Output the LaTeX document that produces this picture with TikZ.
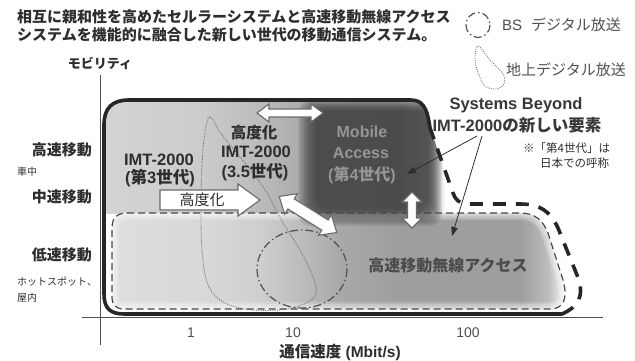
\documentclass[tikz,border=0pt]{standalone}
\usepackage{tikz}
\usepackage{fontspec}
\usetikzlibrary{arrows.meta}
\newfontfamily\jp{Noto Sans CJK JP}
\newfontfamily\lat{Liberation Sans}
\newcommand\fsz[1]{\fontsize{#1}{#1}\selectfont}
\newcommand\J[1]{{\jp #1}}
\definecolor{ink}{HTML}{2E2E2E}
\definecolor{inkg}{HTML}{505050}
\definecolor{darkblk}{HTML}{262626}
\definecolor{blockc}{HTML}{333333}
\definecolor{mobtxt}{HTML}{959595}
\definecolor{arrline}{HTML}{6A6A6A}
\pgfdeclarehorizontalshading{upshade}{100bp}{rgb(0bp)=(0.83,0.83,0.83); rgb(25bp)=(0.83,0.83,0.83); rgb(39bp)=(0.80,0.80,0.80); rgb(47bp)=(0.74,0.74,0.74); rgb(53bp)=(0.68,0.68,0.68); rgb(68bp)=(0.64,0.64,0.64); rgb(73bp)=(0.80,0.80,0.80); rgb(75bp)=(1,1,1); rgb(100bp)=(1,1,1)}
\pgfdeclarehorizontalshading{loshade}{100bp}{rgb(0bp)=(0.87,0.87,0.87); rgb(25bp)=(0.87,0.87,0.87); rgb(34.7bp)=(0.85,0.85,0.85); rgb(41.3bp)=(0.81,0.81,0.81); rgb(45.7bp)=(0.74,0.74,0.74); rgb(50.1bp)=(0.66,0.66,0.66); rgb(56.7bp)=(0.62,0.62,0.62); rgb(69.9bp)=(0.62,0.62,0.62); rgb(73bp)=(0.74,0.74,0.74); rgb(75bp)=(0.97,0.97,0.97); rgb(100bp)=(1,1,1)}
\def\outerpath{(430,128) .. controls (427,106) and (422,100) .. (410,100) -- (129,100) .. controls (112,100) and (104,108) .. (104,125) -- (104,294) .. controls (104,308) and (110,314) .. (124,314) -- (562,314) .. controls (580,306) and (583,295) .. (579,280) -- (558,228) .. controls (550,211) and (540,204) .. (520,204) -- (468,204) .. controls (459,204) and (455,199) .. (453,193) -- cycle}
\def\innerpath{(127,213) -- (520,213) .. controls (536,213) and (543,221) .. (548,233) -- (563,280) .. controls (568,298) and (564,309) .. (550,309) -- (124,309) .. controls (116,309) and (112,305) .. (112,297) -- (112,228) .. controls (112,218) and (117,213) .. (127,213) -- cycle}
\newcommand\DArr[7]{\draw[warrow, shift={(#1,#2)}, rotate=#3] (-#4,0) -- ({-#4+#7},#6) -- ({-#4+#7},#5) -- ({#4-#7},#5) -- ({#4-#7},#6) -- (#4,0) -- ({#4-#7},-#6) -- ({#4-#7},-#5) -- ({-#4+#7},-#5) -- ({-#4+#7},-#6) -- cycle;}
\begin{document}
\begin{tikzpicture}[x=1pt,y=-1pt,
  every node/.style={inner sep=0pt, text=ink},
  ttl/.style={font=\jp\bfseries\fsz{15}, anchor=west},
  ylab/.style={font=\jp\bfseries\fsz{15}, anchor=east},
  ysmall/.style={font=\jp\fsz{10}, anchor=west},
  lb/.style={font=\lat\bfseries\fsz{16.5}},
  mob/.style={font=\lat\bfseries\fsz{16}, text=mobtxt},
  tick/.style={font=\lat\fsz{14}, text=inkg},
  legtxt/.style={font=\lat\fsz{15}, anchor=west, text=inkg},
  note/.style={font=\jp\fsz{11.5}, anchor=west},
  warrow/.style={fill=white, draw=arrline, line width=1.1pt, line join=miter},
  thinarr/.style={draw=ink, line width=0.8pt, -{Triangle[length=9pt,width=6.5pt]}},
  dashdot/.style={draw=inkg, line width=1.2pt, dash pattern=on 8pt off 3pt on 1.5pt off 3pt},
  dotline/.style={draw=black!60, line width=0.9pt, dash pattern=on 0.9pt off 1.4pt},
  axis/.style={draw=inkg, line width=1pt}]
\useasboundingbox (0,0) rectangle (635,361);
% fills
\begin{scope}
  \clip \outerpath;
  \shade[shading=upshade] (104,96) rectangle (446,213);
\end{scope}
\begin{scope}
  \clip \innerpath;
  \shade[shading=loshade] (112,213) rectangle (566,309);
  \foreach \w in {14,10,6,3} {
    \draw[white, line width=\w pt, opacity=0.22] \innerpath;
  }
\end{scope}
\begin{scope}
  \clip \outerpath;
  \foreach \i in {0,...,11} {
    \fill[blockc, opacity=0.11, rounded corners=12pt] ({298+1.6*\i},{100+1*\i}) rectangle ({442-1.2*\i},{226-1.6*\i});
  }
\end{scope}
% axes
\draw[axis] (100,75) -- (100,345);
\draw[axis] (82,317) -- (603,317);
% dotted teardrop (terrestrial)
\draw[dotline] plot[smooth cycle, tension=0.6] coordinates {(210,117) (222,135) (245,163) (265,190) (283,223) (300,250) (313,277) (316,294) (304,304) (280,310) (245,309) (220,300) (207,282) (202,250) (201,210) (202,165) (205,133)};
% dash-dot circle (BS)
\draw[dashdot] (302,269) ellipse [x radius=45, y radius=39];
% inner dashed
\draw[draw=black!72, line width=1.2pt, dash pattern=on 7pt off 4pt] \innerpath;
% outer frame
\draw[draw=darkblk, line width=3.6pt, line cap=round] (430,128) .. controls (427,106) and (422,100) .. (410,100) -- (129,100) .. controls (112,100) and (104,108) .. (104,125) -- (104,294) .. controls (104,308) and (110,314) .. (124,314) -- (562,314);
\draw[draw=darkblk, line width=3.6pt, dash pattern=on 13pt off 10pt] (562,314) .. controls (580,306) and (583,295) .. (579,280) -- (558,228) .. controls (550,211) and (540,204) .. (520,204) -- (468,204) .. controls (459,204) and (455,199) .. (453,193) -- (430,128);
% white arrows
\draw[warrow] (160,190) -- (238,190) -- (238,184) -- (260,200) -- (238,216) -- (238,210) -- (160,210) -- cycle;
\node[font=\jp\fsz{15}] (adv1) at (202,200) {高度化};
\DArr{290}{113}{0}{33}{4}{9}{12}
\DArr{308}{214.5}{-32}{34}{6}{12}{14}
\DArr{412}{210}{90}{18}{4.5}{10}{10}
% title
\node[ttl] (t1) at (17,17) {相互に親和性を高めたセルラーシステムと高速移動無線アクセス};
\node[ttl] (t2) at (17,35) {システムを機能的に融合した新しい世代の移動通信システム。};
% legend
\draw[dashdot] (478,25) ellipse [x radius=12, y radius=12.5];
\node[legtxt] (bs) at (502,25) {BS\hspace{9pt}\J{デジタル放送}};
\draw[dotline] plot[smooth cycle, tension=0.6] coordinates {(478,46) (490,60) (503,74) (504,84) (496,89) (485,86) (479,75) (475,60)};
\node[legtxt, font=\jp\fsz{15}] (tr) at (506,70) {地上デジタル放送};
% y axis labels
\node[font=\jp\bfseries\fsz{13}] (mob) at (100,63) {モビリティ};
\node[ylab] (y1) at (92,150) {高速移動};
\node[ysmall] (y1s) at (17,172) {車中};
\node[ylab] (y2) at (92,197) {中速移動};
\node[ylab] (y3) at (92,255) {低速移動};
\node[ysmall] (y3s) at (17,282) {ホットスポット、};
\node[ysmall] (y3t) at (17,298) {屋内};
% x axis
\node[tick] (x1) at (191,333) {1};
\node[tick] (x10) at (293,333) {10};
\node[tick] (x100) at (468,333) {100};
\node[font=\lat\bfseries\fsz{15.5}] (xt) at (340,352) {\J{通信速度} (Mbit/s)};
% region labels
\node[lb] (imt3a) at (159,160) {IMT-2000};
\node[lb] (imt3b) at (160,178) {(\J{第}3\J{世代})};
\node[lb, font=\jp\bfseries\fsz{15.5}] (imt35a) at (254,133) {高度化};
\node[lb] (imt35b) at (256,152) {IMT-2000};
\node[lb] (imt35c) at (255,172) {(3.5\J{世代})};
\node[mob] (ma1) at (362,132) {Mobile};
\node[mob] (ma2) at (361,153) {Access};
\node[mob] (ma3) at (362,175) {(\J{第}4\J{世代})};
\node[lb, text=black!78] (sb1) at (516,105) {Systems Beyond};
\node[lb, text=black!78] (sb2) at (517,125) {IMT-2000\J{の新しい要素}};
\node[note] (n1) at (523,148) {※「第4世代」は};
\node[note] (n2) at (540,163) {日本での呼称};
\node[font=\jp\bfseries\fsz{16}, text=black!70] (hs) at (448,265) {高速移動無線アクセス};
% thin arrows
\coordinate (a1s) at (477,136);
\coordinate (a1e) at (407,174);
\coordinate (a2s) at (482,136);
\coordinate (a2e) at (452,236);
\draw[thinarr] (a1s) -- (a1e);
\draw[thinarr] (a2s) -- (a2e);
\end{tikzpicture}
\end{document}
